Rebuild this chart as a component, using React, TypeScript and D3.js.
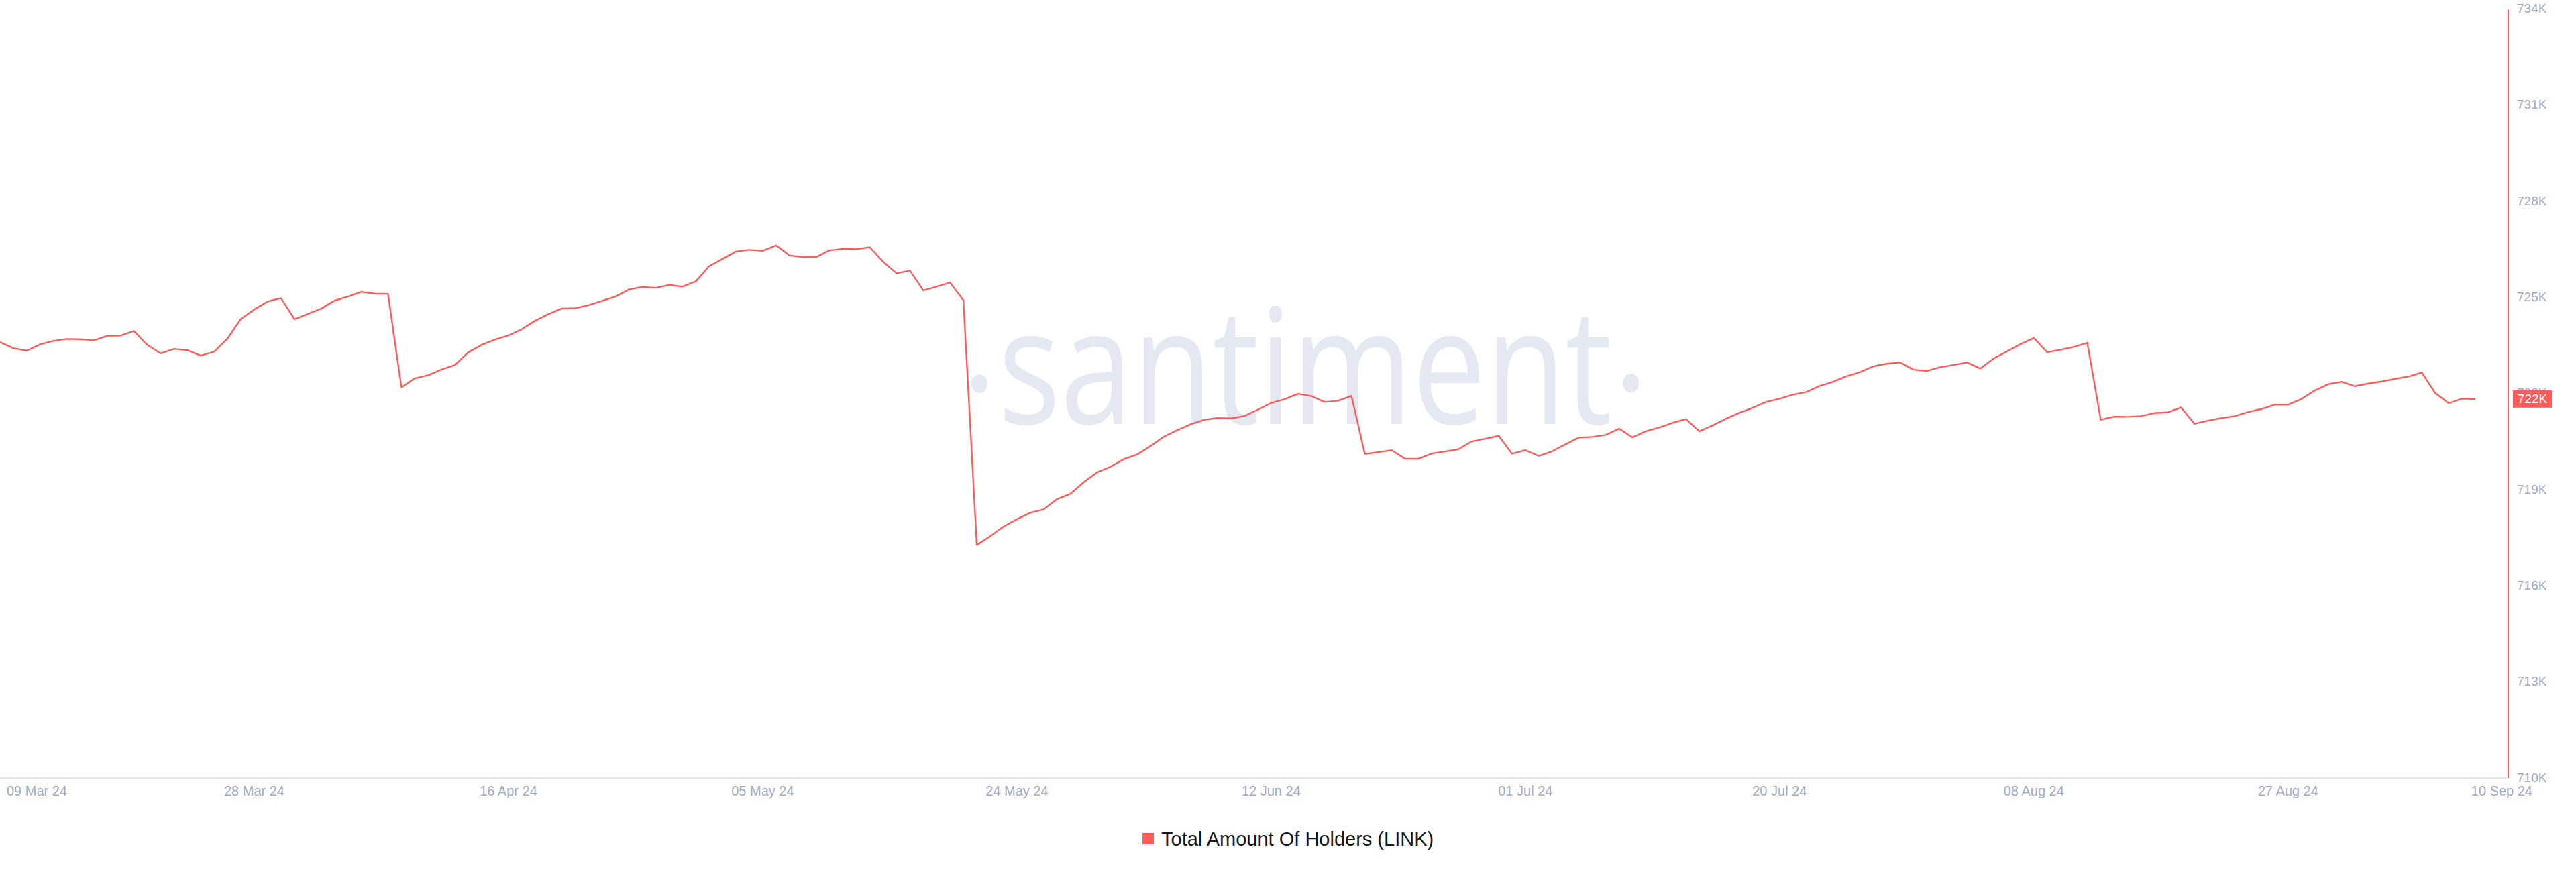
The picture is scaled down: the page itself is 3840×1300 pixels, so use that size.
import React, { useEffect } from "react";
import * as d3 from "d3";

// ---- Data ----
const startDate = "2024-03-09";
const endDate = "2024-09-10";

const holders: number[] = [
  723584, 723395, 723318, 723515, 723625, 723682, 723674, 723640, 723778, 723787,
  723933, 723500, 723234, 723374, 723332, 723165, 723284, 723695, 724310, 724603,
  724854, 724959, 724302, 724463, 724630, 724881, 725007, 725153, 725097, 725091,
  722175, 722453, 722552, 722732, 722872, 723270, 723500, 723667, 723793, 723988,
  724253, 724463, 724636, 724645, 724741, 724875, 725007, 725227, 725310, 725279,
  725369, 725315, 725482, 725955, 726185, 726415, 726466, 726436, 726604, 726290,
  726242, 726242, 726451, 726499, 726487, 726549, 726095, 725733, 725817, 725201,
  725315, 725446, 724888, 717256, 717528, 717828, 718058, 718261, 718366, 718686,
  718853, 719216, 719523, 719697, 719935, 720082, 720346, 720639, 720842, 721024,
  721162, 721218, 721204, 721281, 721476, 721685, 721805, 721972, 721903, 721715,
  721756, 721909, 720095, 720151, 720214, 719942, 719942, 720109, 720172, 720241,
  720486, 720570, 720660, 720103, 720214, 720032, 720178, 720396, 720605, 720626,
  720689, 720884, 720612, 720806, 720919, 721066, 721183, 720800, 720988, 721198,
  721380, 721539, 721721, 721819, 721945, 722028, 722217, 722349, 722522, 722648,
  722830, 722910, 722949, 722725, 722684, 722803, 722872, 722949, 722761, 723075,
  723297, 723521, 723715, 723270, 723347, 723437, 723563, 721162, 721260, 721254,
  721275, 721371, 721392, 721547, 721036, 721135, 721212, 721275, 721401, 721497,
  721631, 721631, 721811, 722077, 722271, 722349, 722209, 722292, 722355, 722439,
  722510, 722635, 721993, 721679, 721819, 721811,
];

const xTickDates = [
  "2024-03-09", "2024-03-28", "2024-04-16", "2024-05-05", "2024-05-24", "2024-06-12",
  "2024-07-01", "2024-07-20", "2024-08-08", "2024-08-27", "2024-09-10",
];
const xTickLabels = [
  "09 Mar 24", "28 Mar 24", "16 Apr 24", "05 May 24", "24 May 24", "12 Jun 24",
  "01 Jul 24", "20 Jul 24", "08 Aug 24", "27 Aug 24", "10 Sep 24",
];
const yTicks = [710000, 713000, 716000, 719000, 722000, 725000, 728000, 731000, 734000];
const seriesName = "Total Amount Of Holders (LINK)";

// ---- Styles ----
const W = 3840;
const H = 1300;
const RED = "#ff5b5b";
const AXIS_TEXT = "#9faac4";
const AXIS_LINE = "#e7eaf3";
const WATERMARK = "#e5e8f2";
const FONT = "'Liberation Sans', Arial, sans-serif";

export default function App() {
  useEffect(() => {
    document.body.style.margin = "0";
    document.body.style.overflow = "hidden";
  }, []);

  const parse = d3.utcParse("%Y-%m-%d");
  const dates = d3.utcDay.range(parse(startDate)!, d3.utcDay.offset(parse(endDate)!, 1));
  const data = dates.map((d, i) => ({ date: d, value: holders[i] }));

  const plotLeft = 0;
  const plotRight = 3690;
  const axisX = 3739;
  const plotTop = 12.5;
  const plotBottom = 1159;

  const x = d3.scaleUtc().domain([parse(startDate)!, parse(endDate)!]).range([plotLeft, plotRight]);
  const y = d3.scaleLinear().domain([710000, 734000]).range([plotBottom, plotTop]);

  const line = d3
    .line<{ date: Date; value: number }>()
    .x((d) => x(d.date))
    .y((d) => y(d.value));

  const last = data[data.length - 1];
  const fmtK = (v: number) => `${Math.round(v / 1000)}K`;

  return (
    <svg
      width={W}
      height={H}
      viewBox={`0 0 ${W} ${H}`}
      style={{ position: "absolute", left: 0, top: 0, display: "block", background: "#fff" }}
      fontFamily={FONT}
    >
      <rect x={0} y={0} width={W} height={H} fill="#fff" />

      {/* watermark */}
      <g fill={WATERMARK}>
        <ellipse cx={1460} cy={572} rx={12} ry={14} />
        <text
          x={1488}
          y={632}
          fontFamily="'Open Sans', sans-serif"
          fontSize={241}
          fontWeight={500}
          textLength={915}
          lengthAdjust="spacingAndGlyphs"
        >
          santiment
        </text>
        <ellipse cx={2431} cy={571} rx={12} ry={14} />
      </g>

      {/* x axis line */}
      <line x1={0} x2={axisX} y1={plotBottom + 1} y2={plotBottom + 1} stroke={AXIS_LINE} strokeWidth={2} />

      {/* x tick labels */}
      {xTickDates.map((ds, i) => {
        const px = x(parse(ds)!);
        let anchor: "start" | "middle" | "end" = "middle";
        let tx = px;
        if (i === 0) {
          anchor = "start";
          tx = 10;
        } else if (i === xTickDates.length - 1) {
          anchor = "end";
          tx = 3775;
        }
        return (
          <text key={ds} x={tx} y={1186} textAnchor={anchor} fontSize={20} fill={AXIS_TEXT}>
            {xTickLabels[i]}
          </text>
        );
      })}

      {/* y axis */}
      <line x1={axisX} x2={axisX} y1={plotTop + 2} y2={plotBottom + 1} stroke={RED} strokeWidth={2} />
      {yTicks.map((t) => (
        <text key={t} x={3752} y={y(t)} dy="0.35em" fontSize={19} fill={AXIS_TEXT}>
          {fmtK(t)}
        </text>
      ))}

      {/* series line */}
      <path d={line(data) ?? ""} fill="none" stroke={RED} strokeWidth={2.4} strokeLinejoin="round" />

      {/* last value label */}
      <g transform={`translate(3746, ${y(last.value)})`}>
        <rect x={0} y={-13} width={58} height={26} fill={RED} />
        <text x={29} y={0} dy="0.35em" textAnchor="middle" fontSize={19} fill="#fff">
          {fmtK(last.value)}
        </text>
      </g>

      {/* legend */}
      <rect x={1703} y={1242} width={17} height={17} fill={RED} />
      <text x={1731} y={1251} dy="0.35em" fontSize={29} fill="#15171d">
        {seriesName}
      </text>
    </svg>
  );
}
